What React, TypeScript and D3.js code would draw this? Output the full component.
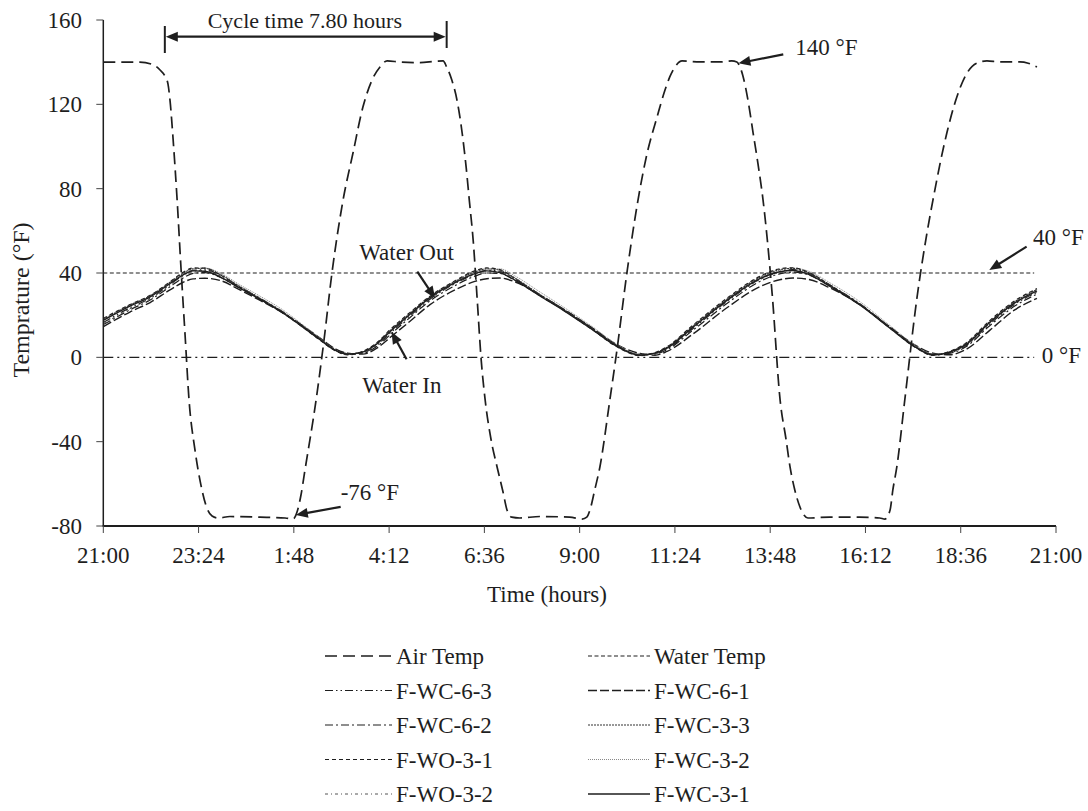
import React from 'react';
import * as d3 from 'd3';

// ---------- data ----------
const xTickLabels = ['21:00', '23:24', '1:48', '4:12', '6:36', '9:00', '11:24', '13:48', '16:12', '18:36', '21:00'];
const yTicks = [-80, -40, 0, 40, 80, 120, 160];

// Air temperature (hours after 21:00, °F)
const airTimes = [0, 0.92, 1.23, 1.43, 1.55, 1.63, 1.68, 1.76, 1.86, 1.96, 2.06, 2.16, 2.31, 2.46, 2.61, 2.74, 2.89, 3.19, 3.95, 4.58, 4.78, 4.88, 4.98, 5.08, 5.36, 5.56, 5.76, 6.04, 6.29, 6.54, 6.77, 6.97, 7.15, 7.47, 7.98, 8.36, 8.56, 8.65, 8.78, 8.91, 9.04, 9.14, 9.22, 9.32, 9.42, 9.52, 9.62, 9.77, 9.92, 10.07, 10.17, 10.29, 10.49, 11.0, 11.75, 12.06, 12.18, 12.26, 12.38, 12.51, 12.76, 12.94, 13.19, 13.47, 13.69, 13.95, 14.15, 14.27, 14.4, 14.58, 15.03, 15.53, 15.83, 15.96, 16.04, 16.12, 16.24, 16.37, 16.49, 16.62, 16.85, 17.05, 17.2, 17.3, 17.42, 17.55, 17.65, 17.75, 18.3, 19.05, 19.56, 19.69, 19.82, 19.89, 19.99, 20.19, 20.5, 20.75, 20.9, 21.25, 21.5, 21.76, 22.01, 22.26, 22.59, 23.09, 23.3, 23.52];
const airValues = [140, 140, 139, 136.3, 133.5, 129.6, 122, 103, 74.6, 41.4, 10.6, -20.3, -44, -60.6, -71.5, -75.3, -76.2, -75.5, -75.8, -76.2, -76.7, -73.4, -65.3, -53.5, -20.3, 8.2, 40, 74.6, 96.9, 118.7, 131.5, 137.7, 140.6, 140.1, 139.8, 140.4, 140.6, 137.7, 131.5, 122, 106.4, 90.3, 74.6, 55, 27.2, -1.3, -20.3, -39.2, -52, -63.9, -72.4, -75.8, -76.2, -75.5, -75.8, -76.7, -75.8, -72.4, -62.9, -52, -20.3, 3.5, 40, 74.6, 96, 114, 126.8, 133, 137.7, 140.6, 140.1, 140.1, 140.6, 140.1, 137.7, 133, 122, 106.4, 92.1, 74.6, 30, -20.3, -39, -52, -62.9, -71, -74.8, -76.2, -75.8, -75.8, -76.2, -76.7, -72.4, -62.9, -52, -20.3, 28.6, 59, 74.6, 106.4, 123.4, 134.9, 139.6, 140.6, 140.1, 140.1, 139.5, 137.7];

// Water-sample temperatures, shared time grid
const waterTimes = [0, 0.67, 1.18, 1.68, 2.0, 2.26, 2.56, 2.94, 3.44, 3.95, 4.53, 4.96, 5.47, 5.8, 6.15, 6.53, 6.88, 7.23, 7.72, 8.23, 8.86, 9.36, 9.66, 9.99, 10.37, 11.0, 11.58, 12.33, 12.94, 13.52, 13.9, 14.2, 14.85, 15.71, 16.54, 17.04, 17.37, 17.75, 18.3, 19.06, 19.81, 20.45, 20.9, 21.33, 21.71, 22.33, 22.96, 23.52];
const fwc31 = [17.5, 24.3, 28.7, 35.0, 39.0, 41.0, 40.8, 38.2, 32.8, 27.5, 21.0, 15.3, 8.2, 3.8, 1.5, 2.5, 6.2, 12.3, 20.3, 28.3, 35.4, 39.7, 41.0, 40.2, 36.6, 29.1, 22.4, 13.0, 5.2, 1.0, 2.0, 4.4, 14.2, 27.0, 37.3, 40.6, 41.2, 39.5, 33.8, 24.8, 13.9, 4.9, 1.2, 2.5, 5.8, 16.5, 25.8, 31.5];
const fwc61 = [14.5, 21.5, 26.0, 32.0, 35.5, 37.2, 37.5, 36.5, 32.0, 27.0, 21.0, 15.8, 9.0, 4.5, 2.0, 1.5, 4.2, 9.5, 17.0, 25.0, 32.0, 36.0, 37.3, 37.6, 35.8, 29.5, 23.0, 13.8, 6.0, 1.8, 1.0, 2.8, 11.0, 23.5, 33.5, 36.8, 37.6, 37.0, 33.0, 25.0, 14.5, 5.8, 2.0, 1.2, 3.5, 12.8, 22.5, 28.0];
const fwc62 = [15.5, 22.5, 27.2, 33.5, 37.5, 39.8, 40.2, 38.0, 32.8, 27.6, 21.2, 15.6, 8.6, 4.2, 1.8, 2.0, 5.0, 10.8, 18.8, 26.8, 34.0, 38.5, 40.0, 39.8, 36.5, 29.3, 22.6, 13.3, 5.6, 1.4, 1.6, 3.6, 12.8, 25.5, 36.0, 39.6, 40.4, 39.2, 33.8, 25.0, 14.2, 5.3, 1.5, 2.0, 4.8, 15.0, 24.3, 30.0];
const fwc63 = [16.5, 23.5, 28.0, 34.5, 38.8, 41.3, 41.5, 39.0, 33.4, 28.0, 21.5, 15.8, 8.7, 4.2, 1.7, 2.2, 5.6, 11.6, 19.6, 27.6, 35.0, 39.5, 41.3, 40.8, 37.2, 29.7, 23.0, 13.6, 5.6, 1.3, 1.8, 4.0, 13.6, 26.5, 37.0, 40.8, 41.6, 40.0, 34.4, 25.4, 14.4, 5.4, 1.4, 2.2, 5.3, 15.8, 25.2, 30.8];
const fwc33 = [18.0, 24.8, 29.2, 35.6, 39.8, 42.0, 42.2, 39.4, 33.6, 28.0, 21.4, 15.6, 8.4, 3.9, 1.4, 2.6, 6.5, 12.8, 20.8, 28.8, 36.0, 40.5, 42.0, 41.4, 37.6, 29.8, 23.0, 13.4, 5.3, 1.0, 2.1, 4.8, 14.8, 27.6, 38.0, 41.6, 42.2, 40.4, 34.4, 25.2, 14.2, 5.0, 1.1, 2.7, 6.2, 17.0, 26.4, 32.2];
const fwo31 = [18.5, 25.0, 29.4, 35.8, 40.2, 42.4, 42.3, 39.2, 33.2, 27.6, 21.0, 15.2, 8.0, 3.6, 1.2, 2.8, 6.8, 13.2, 21.2, 29.0, 36.3, 41.0, 42.4, 41.6, 37.4, 29.4, 22.6, 13.0, 5.0, 0.8, 2.3, 5.0, 15.2, 28.0, 38.4, 42.0, 42.5, 40.5, 34.2, 25.0, 14.0, 4.8, 0.9, 2.9, 6.5, 17.4, 26.8, 32.6];
const fwc32 = [17.8, 24.6, 29.0, 35.4, 39.6, 41.8, 42.4, 40.0, 34.4, 29.0, 22.4, 16.4, 9.0, 4.2, 1.6, 2.4, 6.2, 12.6, 20.6, 28.6, 35.8, 40.2, 41.8, 42.0, 38.6, 31.0, 24.0, 14.4, 6.2, 1.4, 1.9, 4.6, 14.6, 27.4, 37.8, 41.4, 42.3, 41.0, 35.4, 26.4, 15.2, 5.8, 1.5, 2.6, 6.0, 16.8, 26.2, 32.0];
const fwo32 = [16.0, 23.0, 27.8, 34.2, 38.4, 40.8, 41.2, 38.8, 33.2, 27.8, 21.4, 15.6, 8.5, 4.0, 1.6, 2.3, 5.8, 11.8, 19.8, 27.8, 35.0, 39.4, 41.0, 40.6, 37.0, 29.6, 22.8, 13.4, 5.4, 1.2, 1.9, 4.2, 13.8, 26.6, 36.8, 40.4, 41.2, 39.8, 34.2, 25.2, 14.2, 5.2, 1.3, 2.3, 5.4, 16.0, 25.4, 31.0];

// Water bath set points
const waterOutTemp = 40;
const waterInTemp = 0;
const waterLineEnd = 23.45;

// ---------- styles ----------
const INK = '#1e1e1e';
const FONT = "'Liberation Serif', 'Times New Roman', serif";

type Style = { dash: string; width: number; color: string };
const airStyle: Style = { dash: '12,6', width: 1.7, color: INK };
const waterTempStyle: Style = { dash: '4,2.5', width: 1.2, color: INK };
const zeroStyle: Style = { dash: '10,4,2,4,2,4', width: 1.1, color: INK };

const waterSeries: { name: string; values: number[]; style: Style }[] = [
  { name: 'F-WC-6-1', values: fwc61, style: { dash: '9,3', width: 1.4, color: INK } },
  { name: 'F-WC-6-2', values: fwc62, style: { dash: '8,3,2,3', width: 1.2, color: INK } },
  { name: 'F-WC-6-3', values: fwc63, style: { dash: '8,3,1.5,3,1.5,3', width: 1.2, color: INK } },
  { name: 'F-WO-3-2', values: fwo32, style: { dash: '3,3,1,3', width: 1, color: '#555' } },
  { name: 'F-WC-3-2', values: fwc32, style: { dash: '1,1', width: 1, color: '#888' } },
  { name: 'F-WO-3-1', values: fwo31, style: { dash: '4,3', width: 1.2, color: INK } },
  { name: 'F-WC-3-3', values: fwc33, style: { dash: '2,1', width: 1.1, color: '#333' } },
  { name: 'F-WC-3-1', values: fwc31, style: { dash: '', width: 1.4, color: INK } },
];

const styleOf = (n: string): Style => {
  if (n === 'Air Temp') return airStyle;
  if (n === 'Water Temp') return waterTempStyle;
  return waterSeries.find((s) => s.name === n)!.style;
};

const legendRows = [
  ['Air Temp', 'Water Temp'],
  ['F-WC-6-3', 'F-WC-6-1'],
  ['F-WC-6-2', 'F-WC-3-3'],
  ['F-WO-3-1', 'F-WC-3-2'],
  ['F-WO-3-2', 'F-WC-3-1'],
];

// ---------- layout ----------
const W = 1088;
const H = 811;
const x = d3.scaleLinear().domain([0, 24]).range([103.3, 1056]);
const y = d3.scaleLinear().domain([-80, 160]).range([526, 20]);

function arrowHead(tx: number, ty: number, fx: number, fy: number, len = 12, half = 5) {
  const dx = tx - fx;
  const dy = ty - fy;
  const d = Math.hypot(dx, dy) || 1;
  const ux = dx / d;
  const uy = dy / d;
  const bx = tx - ux * len;
  const by = ty - uy * len;
  return `${tx},${ty} ${bx - uy * half},${by + ux * half} ${bx + uy * half},${by - ux * half}`;
}

function Arrow({ from, to }: { from: [number, number]; to: [number, number] }) {
  const fx = x(from[0]);
  const fy = y(from[1]);
  const tx = x(to[0]);
  const ty = y(to[1]);
  const d = Math.hypot(tx - fx, ty - fy);
  const ex = tx - ((tx - fx) / d) * 9;
  const ey = ty - ((ty - fy) / d) * 9;
  return (
    <g>
      <line x1={fx} y1={fy} x2={ex} y2={ey} stroke={INK} strokeWidth={2.2} />
      <polygon points={arrowHead(tx, ty, fx, fy)} fill={INK} />
    </g>
  );
}

export default function App() {
  const airLine = d3
    .line<number>()
    .x((_, i) => x(airTimes[i]))
    .y((v) => y(v))
    .curve(d3.curveMonotoneX);
  const waterLine = d3
    .line<number>()
    .x((_, i) => x(waterTimes[i]))
    .y((v) => y(v))
    .curve(d3.curveMonotoneX);

  const xTicks = xTickLabels.map((_, i) => i * 2.4);
  const fontSize = 23;

  // cycle annotation
  const cycStart = 1.55;
  const cycEnd = 8.65;
  const cycY = y(152.1);

  return (
    <svg width={W} height={H} style={{ position: 'absolute', left: 0, top: 0, background: '#fff' }} fontFamily={FONT}>
      <rect width={W} height={H} fill="#fff" />

      {/* water set-point lines */}
      <line x1={x(0)} x2={x(waterLineEnd)} y1={y(waterOutTemp)} y2={y(waterOutTemp)} stroke={waterTempStyle.color} strokeWidth={waterTempStyle.width} strokeDasharray={waterTempStyle.dash} />
      <line x1={x(0)} x2={x(waterLineEnd)} y1={y(waterInTemp)} y2={y(waterInTemp)} stroke={zeroStyle.color} strokeWidth={zeroStyle.width} strokeDasharray={zeroStyle.dash} />

      {/* water sample curves */}
      {waterSeries.map((s) => (
        <path key={s.name} d={waterLine(s.values) || ''} fill="none" stroke={s.style.color} strokeWidth={s.style.width} strokeDasharray={s.style.dash || undefined} />
      ))}

      {/* air temperature */}
      <path d={airLine(airValues) || ''} fill="none" stroke={airStyle.color} strokeWidth={airStyle.width} strokeDasharray={airStyle.dash} />

      {/* axes */}
      <line x1={x(0)} x2={x(0)} y1={y(160)} y2={y(-80)} stroke={INK} strokeWidth={1.5} />
      <line x1={x(0) - 0.75} x2={x(24)} y1={y(-80)} y2={y(-80)} stroke={INK} strokeWidth={2} />
      {yTicks.map((t) => (
        <g key={'y' + t}>
          <line x1={x(0) - 7} x2={x(0)} y1={y(t)} y2={y(t)} stroke="#444" strokeWidth={1} />
          <text x={82} y={y(t) + 8} textAnchor="end" fontSize={fontSize} fill={INK}>
            {t}
          </text>
        </g>
      ))}
      {xTicks.map((t, i) => (
        <g key={'x' + i}>
          <line x1={x(t)} x2={x(t)} y1={y(-80)} y2={y(-80) + 7} stroke="#444" strokeWidth={1} />
          <text x={x(t)} y={563} textAnchor="middle" fontSize={fontSize} fill={INK}>
            {xTickLabels[i]}
          </text>
        </g>
      ))}

      {/* axis titles */}
      <text x={547} y={602} textAnchor="middle" fontSize={fontSize} fill={INK}>
        Time (hours)
      </text>
      <text transform={`translate(29,300) rotate(-90)`} textAnchor="middle" fontSize={24} fill={INK}>
        Temprature (°F)
      </text>

      {/* cycle time annotation */}
      <line x1={x(cycStart)} x2={x(cycStart)} y1={26} y2={53} stroke={INK} strokeWidth={2} />
      <line x1={x(cycEnd)} x2={x(cycEnd)} y1={21} y2={48} stroke={INK} strokeWidth={2} />
      <line x1={x(cycStart) + 10} x2={x(cycEnd) - 10} y1={cycY} y2={cycY} stroke={INK} strokeWidth={2.2} />
      <polygon points={arrowHead(x(cycStart) + 1, cycY, x(cycEnd), cycY)} fill={INK} />
      <polygon points={arrowHead(x(cycEnd) - 1, cycY, x(cycStart), cycY)} fill={INK} />
      <text x={x(2.63)} y={y(156)} fontSize={22} fill={INK}>
        Cycle time 7.80 hours
      </text>

      {/* callouts */}
      <Arrow from={[17.13, 143.7]} to={[16.0, 139.5]} />
      <text x={x(17.43)} y={y(143.3)} fontSize={fontSize} fill={INK}>140 °F</text>

      <Arrow from={[23.26, 52.5]} to={[22.32, 41.4]} />
      <text x={x(23.42)} y={y(53.3)} fontSize={fontSize} fill={INK}>40 °F</text>

      <text x={x(23.64)} y={y(-2.5)} fontSize={fontSize} fill={INK}>0 °F</text>

      <Arrow from={[7.91, 40.6]} to={[8.36, 28]} />
      <text x={x(8.83)} y={y(46.2)} textAnchor="end" fontSize={fontSize} fill={INK}>Water Out</text>

      <Arrow from={[7.64, -0.9]} to={[7.26, 12.1]} />
      <text x={x(8.52)} y={y(-16.9)} textAnchor="end" fontSize={fontSize} fill={INK}>Water In</text>

      <Arrow from={[5.98, -70.9]} to={[4.85, -74.8]} />
      <text x={x(5.98)} y={y(-67.7)} fontSize={fontSize} fill={INK}>-76 °F</text>

      {/* legend */}
      {legendRows.map((row, r) => {
        const ly = 656 + r * 34.5;
        return row.map((name, c) => {
          const x0 = c === 0 ? 325 : 588;
          const x1 = c === 0 ? 392 : 650;
          const st = styleOf(name);
          return (
            <g key={name}>
              <line x1={x0} x2={x1} y1={ly} y2={ly} stroke={st.color} strokeWidth={st.width} strokeDasharray={st.dash || undefined} />
              <text x={x1 + 4} y={ly + 8} fontSize={fontSize} fill={INK}>
                {name}
              </text>
            </g>
          );
        });
      })}
    </svg>
  );
}
